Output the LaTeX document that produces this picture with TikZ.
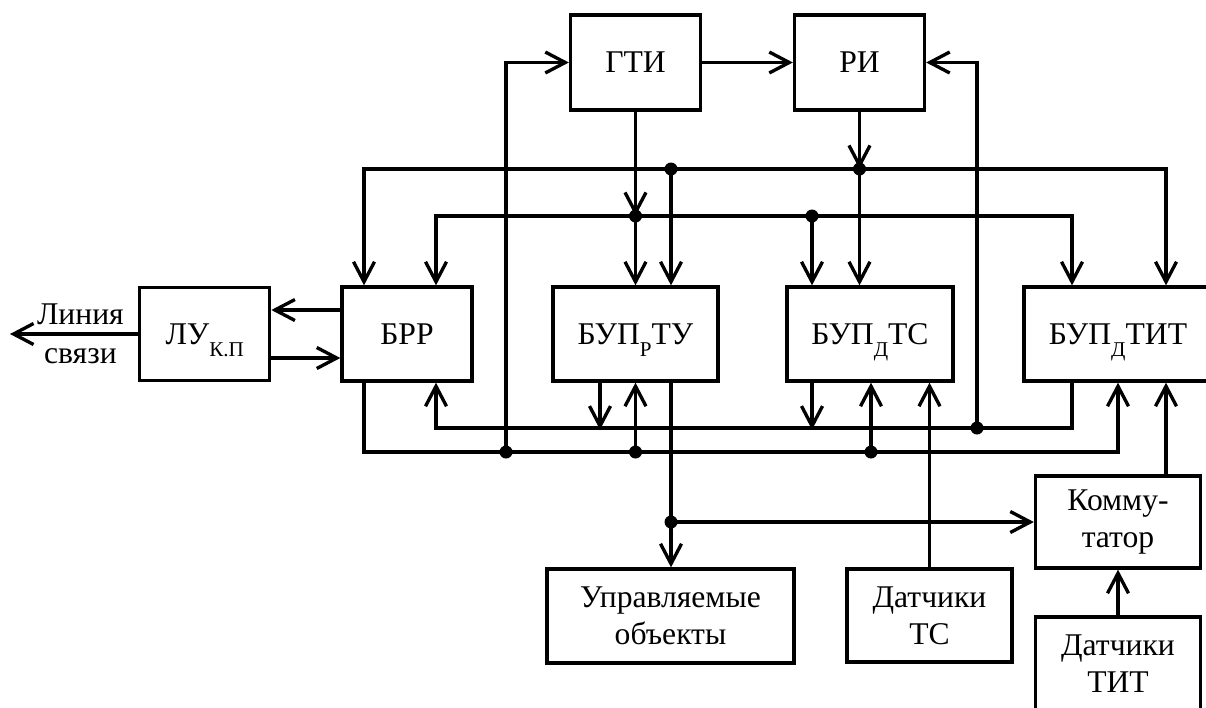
\documentclass[tikz,border=0pt]{standalone}
\usepackage{fontspec}
\setmainfont{Liberation Serif}
\usepackage{tikz}
\usetikzlibrary{arrows.meta, positioning, calc}
\tikzstyle{block} = [rectangle, draw=black, line width=1.9pt, minimum width=2.6cm, minimum height=1.88cm, inner sep=0pt, text centered, align=center]
\tikzstyle{arrow} = [line width=1.9pt, -{Straight Barb[length=4mm,width=4.2mm]}]
\tikzstyle{twoway} = [line width=1.9pt, {Straight Barb[length=4mm,width=4.2mm]}-{Straight Barb[length=4mm,width=4.2mm]}]
\newcommand{\lowidx}[1]{\raisebox{-7pt}[0pt][0pt]{\fontsize{12}{12}\selectfont #1}}

\begin{document}
\begin{tikzpicture}[x=0.02cm, y=-0.02cm, node distance=1.88cm, font=\fontsize{18}{21}\selectfont]
\path[use as bounding box, clip] (0,0) rectangle (1206,707);

\node (brr) [block] at (407,334) {БРР};
\node (lu) [block, left=1.38cm of brr, minimum height=1.86cm] {ЛУ\lowidx{К.П}};
\node (tu) [block, minimum width=3.3cm] at (635.5,334) {БУП\lowidx{Р}ТУ};
\node (ts) [block, minimum width=3.32cm] at (870,334) {БУП\lowidx{Д}ТС};
\node (tit) [block, minimum width=3.76cm] at (1118,334) {БУП\lowidx{Д}ТИТ};
\node (gti) [block, minimum height=1.9cm] at (635.5,62.5) {ГТИ};
\node (ri) [block, minimum height=1.9cm] at (859.5,62.5) {РИ};
\node (obj) [block, minimum width=4.94cm] at (670.5,616) {Управляемые\\объекты};
\node (dts) [block, minimum width=3.3cm, minimum height=1.86cm] at (929.5,615.5) {Датчики\\ТС};
\node (komm) [block, minimum width=3.3cm, minimum height=1.84cm] at (1118,522) {Комму-\\татор};
\node (dtit) [block, minimum width=3.3cm] at (1118,664) {Датчики\\ТИТ};

\coordinate (jA1) at (671,169);
\coordinate (jA2) at (859.5,169);
\coordinate (jB1) at (635.5,216);
\coordinate (jB2) at (812,216);
\coordinate (jC1) at (506,452);
\coordinate (jC2) at (635.5,452);
\coordinate (jC3) at (871,452);
\coordinate (jD1) at (977,428);
\coordinate (jE1) at (671,522);
\coordinate (link) at (10,334);

% line of communication
\draw [arrow] (lu) -- node[pos=0.45, align=center] {Линия\\[1pt]связи} (link);
\draw [arrow] ($(brr.west)+(0,-24)$) -- ($(lu.east)+(0,-24)$);
\draw [arrow] ($(lu.east)+(0,24)$) -- ($(brr.west)+(0,24)$);

% top part
\draw [arrow] (gti) -- (ri);
\draw [arrow] (jC1) |- (gti);
\draw [arrow] (jD1) |- (ri);
\draw [arrow] (gti) -- (jB1);
\draw [arrow] (jB1) -- (tu);
\draw [arrow] (ri) -- (jA2);
\draw [arrow] (jA2) -- (jA2 |- ts.north);
\draw [arrow] (jA1) -- (jA1 |- tu.north);
\draw [arrow] (jB2) -- (jB2 |- ts.north);
\draw [twoway] ($(brr.north)+(-43,0)$) |- (jA1) -- (jA2) -| ($(tit.north)+(48,0)$);
\draw [twoway] ($(brr.north)+(29,0)$) |- (jB1) -- (jB2) -| ($(tit.north)+(-46,0)$);

% bottom part
\draw [arrow] ($(tit.south)+(-46,0)$) |- (jD1) -| ($(brr.south)+(29,0)$);
\draw [arrow] ($(tu.south)+(-35.5,0)$) -- ++(0,47);
\draw [arrow] ($(ts.south)+(-58,0)$) -- ++(0,47);
\draw [arrow] ($(brr.south)+(-43,0)$) |- (jC1) -- (jC3) -| (tit.south);
\draw [arrow] (jC2) -- (tu);
\draw [arrow] (jC3) -- (jC3 |- ts.south);
\draw [arrow] (dts) -- (dts |- ts.south);
\draw [arrow] (jA1 |- tu.south) -- (jA1 |- obj.north);
\draw [arrow] (jE1) -- (komm);
\draw [arrow] (dtit) -- (komm);
\draw [arrow] ($(komm.north)+(48,0)$) -- ($(tit.south)+(48,0)$);

\foreach \j in {jA1,jA2,jB1,jB2,jC1,jC2,jC3,jD1,jE1}
  \fill (\j) circle (0.13cm);
\end{tikzpicture}
\end{document}
